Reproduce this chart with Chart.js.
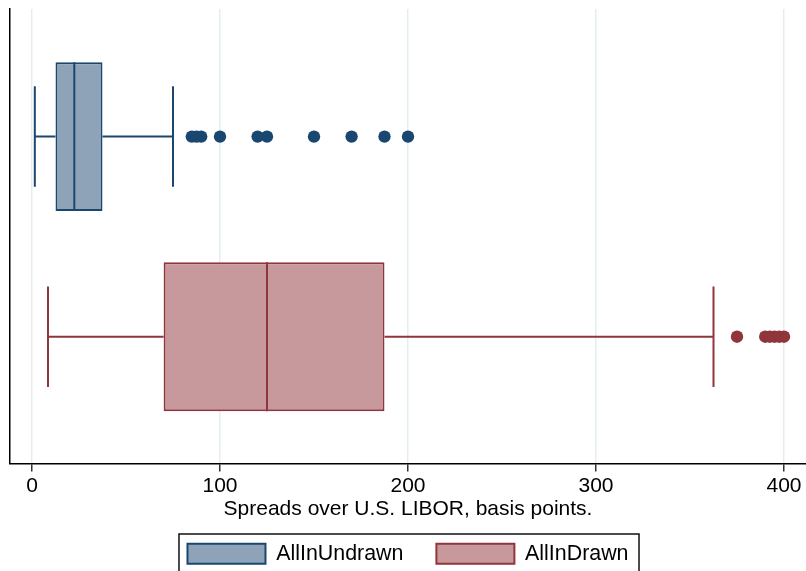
<!DOCTYPE html>
<html><head><meta charset="utf-8">
<script src="https://cdn.jsdelivr.net/npm/chart.js@4.4.1/dist/chart.umd.min.js"></script>
<style>html,body{margin:0;padding:0;background:#fff;}canvas{display:block;}</style>
</head><body>
<canvas id="c" width="806" height="571"></canvas>
<script>
// ---- data ----
const categories = ['AllInUndrawn', 'AllInDrawn'];
const lowerWhisker = [1.5, 8.5];
const quartile1 = [12.5, 70];
const medians = [22.5, 125];
const quartile3 = [37.5, 187.5];
const upperWhisker = [75, 362.5];
const outliersUndrawn = [85, 87.5, 90, 100, 120, 125, 150, 170, 187.5, 200];
const outliersDrawn = [375, 390, 392.5, 395, 397.5, 400];
const xTickValues = [0, 100, 200, 300, 400];
const axisTitle = 'Spreads over U.S. LIBOR, basis points.';

// ---- styles ----
const lineColors = ['#1a476f', '#90353b'];
const fillColors = ['#8ea3b8', '#c8999c'];
const BOX_HALF = 0.372, CAP_HALF = 0.251;
const outlierSets = [outliersUndrawn, outliersDrawn];

function gap() { return {x: null, y: null}; }
function whiskerPoints(i) {
  const c = i + 1;
  return [
    {x: lowerWhisker[i], y: c - CAP_HALF}, {x: lowerWhisker[i], y: c + CAP_HALF}, gap(),
    {x: lowerWhisker[i], y: c}, {x: quartile1[i], y: c}, gap(),
    {x: quartile3[i], y: c}, {x: upperWhisker[i], y: c}, gap(),
    {x: upperWhisker[i], y: c - CAP_HALF}, {x: upperWhisker[i], y: c + CAP_HALF}, gap(),
    {x: medians[i], y: c - BOX_HALF}, {x: medians[i], y: c + BOX_HALF}
  ];
}

const datasets = [];
categories.forEach((name, i) => {
  datasets.push({
    type: 'line', label: name + ' whiskers', data: whiskerPoints(i),
    borderColor: lineColors[i], borderWidth: 2, pointRadius: 0, fill: false, spanGaps: false
  });
});
categories.forEach((name, i) => {
  datasets.push({
    type: 'bar', label: name, data: [{x: [quartile1[i], quartile3[i]], y: i + 1}],
    backgroundColor: fillColors[i], borderColor: lineColors[i], borderWidth: 2,
    borderSkipped: false, grouped: false, categoryPercentage: 1, barPercentage: 0.744
  });
});
categories.forEach((name, i) => {
  datasets.push({
    type: 'line', label: name + ' outliers', showLine: false,
    data: outlierSets[i].map(v => ({x: v, y: i + 1})),
    pointRadius: 6.2, pointBackgroundColor: lineColors[i], pointBorderWidth: 0, borderColor: lineColors[i]
  });
});

const legendFrame = {
  id: 'legendFrame',
  afterDraw(chart) {
    const hb = chart.legend && chart.legend.legendHitBoxes;
    if (!hb || !hb.length) return;
    const ctx = chart.ctx;
    const last = hb[hb.length - 1];
    const left = hb[0].left - 8.5;
    const right = last.left + last.width + 10.5;
    const top = hb[0].top - 9;
    ctx.save();
    ctx.strokeStyle = '#111';
    ctx.lineWidth = 1.5;
    ctx.strokeRect(left, top, right - left, chart.height - top + 10);
    ctx.restore();
  }
};

Chart.defaults.font.family = "'Liberation Sans', Arial, sans-serif";
Chart.defaults.color = '#000';

new Chart(document.getElementById('c'), {
  data: {datasets},
  options: {
    indexAxis: 'y',
    responsive: false,
    animation: false,
    layout: {autoPadding: false, padding: {left: 10, right: 0, top: 9, bottom: 0}},
    scales: {
      x: {
        type: 'linear', min: -11.7, max: 411.7,
        afterBuildTicks: s => { s.ticks = xTickValues.map(v => ({value: v})); },
        afterFit: s => { s.paddingRight = 0; s.paddingLeft = 0; },
        grid: {color: '#e4edf0', lineWidth: 1.5, tickLength: 8, tickColor: '#333', tickWidth: 1.5},
        border: {display: true, color: '#000', width: 1.5},
        ticks: {padding: 2, color: '#000', font: {size: 21}},
        title: {display: true, text: axisTitle, color: '#000', font: {size: 21}, padding: {top: -4, bottom: -12}}
      },
      y: {
        type: 'linear', reverse: true, offset: false, min: 0.3625, max: 2.634,
        afterBuildTicks: s => { s.ticks = categories.map((_, i) => ({value: i + 1})); },
        ticks: {display: false},
        grid: {display: false, drawTicks: false, offset: false},
        border: {display: true, color: '#000', width: 1.5}
      }
    },
    plugins: {
      tooltip: {enabled: false},
      legend: {
        position: 'bottom', maxHeight: 61,
        labels: {
          boxWidth: 78, boxHeight: 20, padding: 33, color: '#000', font: {size: 21.4},
          filter: (item, data) => data.datasets[item.datasetIndex].type === 'bar'
        }
      }
    }
  },
  plugins: [legendFrame]
});
</script>
</body></html>
